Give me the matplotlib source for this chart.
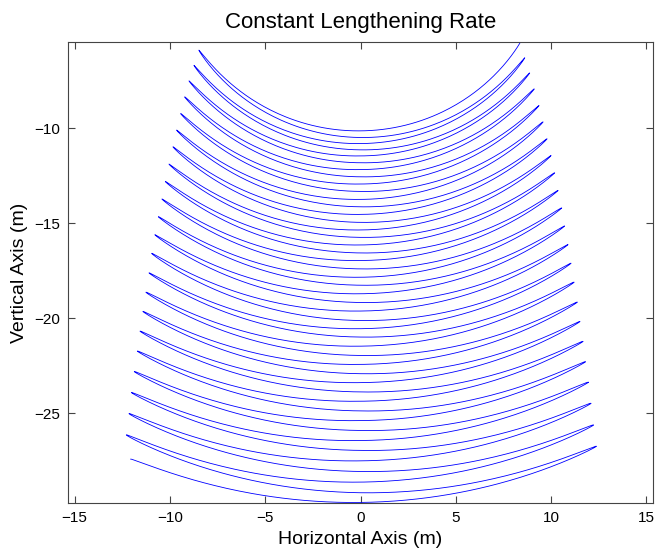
import numpy as np
import matplotlib
matplotlib.use('Agg')
from matplotlib import pyplot as plt

plt.rcParams['font.family'] = ['Liberation Sans', 'DejaVu Sans']

# turning points of the swing (m)
# start point (top right), then alternating left / right turns
x_start, y_start = 8.39, -5.45
x_left = [-8.48, -8.74, -9.00, -9.23, -9.44, -9.65, -9.84, -10.05, -10.24, -10.42, -10.61,
          -10.79, -10.96, -11.10, -11.26, -11.42, -11.57, -11.71, -11.87, -12.01, -12.15, -12.29]
y_left = [-5.88, -6.68, -7.50, -8.34, -9.22, -10.09, -10.97, -11.88, -12.80, -13.72, -14.65,
          -15.60, -16.58, -17.61, -18.63, -19.64, -20.68, -21.73, -22.81, -23.92, -25.02, -26.14]
x_right = [8.62, 8.88, 9.12, 9.37, 9.58, 9.79, 10.00, 10.19, 10.37, 10.56, 10.71,
           10.89, 11.05, 11.21, 11.38, 11.52, 11.68, 11.81, 11.96, 12.10, 12.23, 12.38]
y_right = [-6.28, -7.08, -7.92, -8.80, -9.66, -10.55, -11.43, -12.34, -13.27, -14.19, -15.14,
           -16.12, -17.10, -18.10, -19.15, -20.17, -21.22, -22.29, -23.37, -24.48, -25.62, -26.74]
x_end, y_end = -12.06, -27.42

# lowest point of each swing (where it crosses x = 0)
y_bottom = [-10.13, -10.48, -10.80, -11.13, -11.45, -11.81, -12.17, -12.55, -12.93, -13.32,
            -13.74, -14.13, -14.53, -14.95, -15.35, -15.74, -16.14, -16.56, -16.96, -17.40,
            -17.84, -18.26, -18.71, -19.17, -19.62, -20.12, -20.55, -20.99, -21.47, -21.96,
            -22.43, -22.92, -23.39, -23.88, -24.37, -24.88, -25.39, -25.91, -26.44, -26.96,
            -27.51, -28.07, -28.63, -29.19, -29.70]

# order the turning points along the path
px = [x_start]
py = [y_start]
for i in range(len(x_left)):
    px += [x_left[i], x_right[i]]
    py += [y_left[i], y_right[i]]
px.append(x_end)
py.append(y_end)
px = np.array(px)
py = np.array(py)

ang = np.arctan2(px, -py)
rad = np.hypot(px, py)

# each swing: angle eases in/out between turns, length passes through the bottom value
xs = []
ys = []
s = np.linspace(0, 1, 200)
for k in range(len(px) - 1):
    a0, a1 = ang[k], ang[k + 1]
    th = a0 + (a1 - a0) * (1 - np.cos(np.pi * s)) / 2
    s0 = np.arccos(1 - 2 * a0 / (a0 - a1)) / np.pi
    r = np.interp(s, [0, s0, 1], [rad[k], -y_bottom[k], rad[k + 1]])
    xs.append(r * np.sin(th))
    ys.append(-r * np.cos(th))
xs = np.concatenate(xs)
ys = np.concatenate(ys)

fig = plt.figure(figsize=(6.65, 5.54), dpi=100)
ax = fig.add_axes([68 / 665, 1 - 503 / 554, 585 / 665, 461 / 554])
ax.plot(xs, ys, color='blue', lw=0.6)

ax.set_xlim(-15.35, 15.35)
ax.set_ylim(-29.73, -5.45)
ax.set_xticks([-15, -10, -5, 0, 5, 10, 15])
ax.set_yticks([-25, -20, -15, -10])
ax.tick_params(direction='in', top=True, right=True, length=5, width=0.8,
               color='#444444', labelsize=11, pad=6)
for sp in ax.spines.values():
    sp.set_color('#444444')
    sp.set_linewidth(0.8)

ax.set_title('Constant Lengthening Rate', fontsize=16, pad=10)
ax.set_xlabel('Horizontal Axis (m)', fontsize=14, labelpad=4)
ax.set_ylabel('Vertical Axis (m)', fontsize=14, labelpad=4)

plt.savefig('out.png', dpi=100)
